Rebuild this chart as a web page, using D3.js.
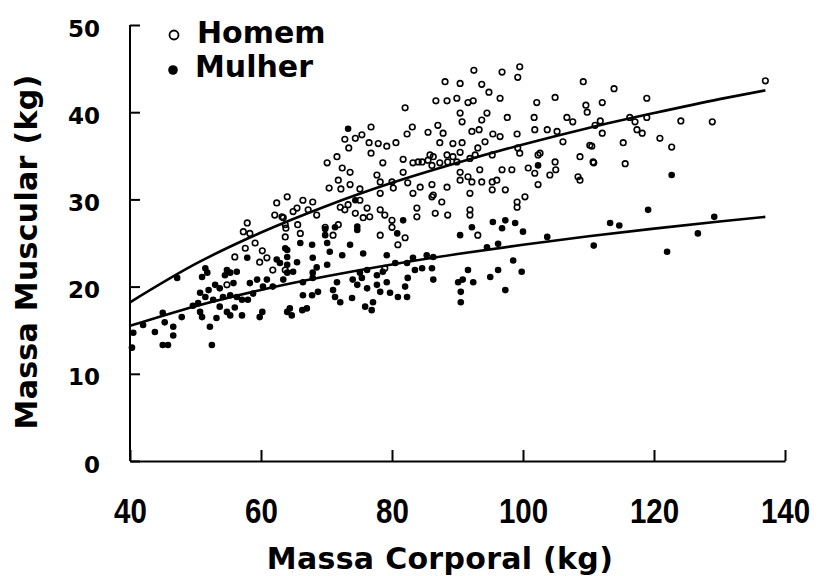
<!DOCTYPE html>
<html>
<head>
<meta charset="utf-8">
<script src="https://cdn.jsdelivr.net/npm/d3@7"></script>
<style>
  html, body { margin: 0; padding: 0; background: #fff; }
  svg { display: block; }
</style>
</head>
<body>
<svg id="chart" width="820" height="576"></svg>
<script>
// ---------- data ----------
const xTicks = [40, 60, 80, 100, 120, 140];
const yTicks = [0, 10, 20, 30, 40, 50];
const seriesNames = ["Homem", "Mulher"];

// Homem (open circles): [massa corporal, massa muscular]
const homem = [
  [92.5,44.8],[96.8,44.6],[99.5,45.2],[99.2,44.0],[88.1,43.5],[90.4,43.3],[93.7,43.2],[94.8,42.3],[96.5,41.6],[89.9,41.6],
  [88.4,41.3],[86.7,41.3],[91.6,41.1],[92.4,41.3],[82.0,40.5],[102.1,41.1],[104.9,41.7],[109.2,43.5],[109.6,40.8],[109.8,40.0],
  [94.5,39.9],[90.4,39.9],[106.7,39.4],[101.7,39.4],[97.6,39.4],
  [90.7,38.9],[93.7,39.1],[101.8,38.0],[103.7,38.0],[105.2,37.8],[107.6,38.9],[111.0,38.5],[87.0,38.5],[85.5,37.7],[87.8,37.6],
  [92.2,37.8],[93.3,38.0],[95.4,37.5],[99.1,37.5],[106.1,36.6],[110.2,36.2],[87.3,36.5],[89.3,36.4],[90.7,36.5],[94.2,36.6],
  [96.5,37.2],[93.1,35.9],[99.5,35.3],[99.2,35.9],[102.6,35.3],[108.7,34.9],[110.7,34.3],[84.6,34.3],[85.8,35.1],[86.1,33.9],
  [87.3,34.2],[88.4,35.1],[89.3,34.9],[88.5,34.3],[89.9,34.3],[90.4,35.4],[91.9,34.7],[92.7,35.1],[95.3,35.1],[96.8,33.4],
  [98.3,33.4],[93.4,33.4],[100.8,33.6],[102.3,35.1],[104.9,34.3],[105.0,33.4],[104.1,32.8],[101.8,33.0],[108.4,32.6],[90.4,33.1],
  [91.6,32.6],[90.4,32.2],[92.2,32.0],[93.7,32.0],[95.3,32.0],[96.0,32.2],[95.3,31.1],[97.3,31.1],[88.4,31.4],[86.3,30.5],
  [91.9,30.7],[102.3,31.7],[99.1,29.7],[87.6,29.7],[108.7,32.2],
  [137.0,43.6],[113.9,42.7],[118.9,41.6],[112.1,41.1],[111.8,39.0],[116.3,39.4],[117.1,38.9],[118.9,39.4],[124.1,39.0],[128.9,38.9],
  [112.1,37.6],[117.4,38.0],[118.2,37.6],[120.9,37.0],[122.7,36.0],[115.3,36.5],[110.5,36.1],[110.8,34.2],[115.6,34.1],
  [83.1,38.3],[82.3,37.5],[76.8,38.3],[75.4,37.4],[74.4,37.0],[72.8,36.9],[73.4,35.9],[76.5,36.5],[77.9,36.4],[79.2,36.1],
  [76.8,35.3],[80.6,36.5],[71.6,34.9],[70.1,34.2],[72.4,33.6],[73.6,33.1],[78.6,34.2],[81.7,34.6],[83.2,34.2],[84.0,34.3],
  [85.5,34.5],[86.3,34.9],[81.7,33.1],[77.7,32.8],[71.8,32.2],[70.4,31.3],[73.6,31.7],[72.2,31.2],[75.1,31.2],[80.0,32.0],
  [78.2,32.0],[82.4,31.9],[84.3,31.4],[86.1,31.7],[80.2,31.3],[83.2,30.7],[78.2,30.7],[86.1,30.3],[64.0,30.3],[66.4,29.9],
  [67.9,29.7],[65.5,29.0],[67.2,28.8],[64.9,28.6],[68.5,28.2],[63.4,27.9],[72.1,29.1],[73.3,29.4],[75.1,29.9],[72.8,28.8],
  [74.4,28.4],[76.2,29.0],[76.6,28.0],[75.6,27.9],[78.2,28.8],[78.9,28.2],[80.0,27.6],[83.8,29.0],[83.8,28.0],[86.6,28.4],
  [63.7,27.1],[65.6,27.1],[66.0,26.1],[71.8,27.1],[69.8,26.8],[78.2,25.9],[80.0,26.8],[82.0,25.6],
  [62.4,29.6],[62.1,28.2],[63.2,28.0],[63.8,26.7],[57.9,27.3],[57.3,26.3],[58.3,26.1],[59.1,25.0],[57.6,24.4],[60.2,24.1],
  [56.0,23.4],[59.8,22.8],[60.9,23.3],[61.8,21.9],[63.7,21.9],[54.8,20.2],
  [63.7,25.7],[71.0,25.9],[80.9,24.8],[78.9,22.1],
  [91.9,28.8],[91.9,28.2],[93.1,25.9],[88.5,28.2],[99.1,29.1],[100.3,30.3]
];

// Mulher (filled circles)
const mulher = [
  [47.2,21.0],[51.5,22.1],[51.8,21.6],[51.0,21.1],[54.5,21.3],[55.3,21.6],[56.3,21.7],[53.0,20.2],[53.7,19.8],[50.7,19.3],
  [51.5,18.8],[50.4,18.1],[52.7,18.5],[54.2,18.8],[55.3,19.0],[56.3,18.8],[53.7,17.7],[54.8,17.1],[55.3,16.7],[50.7,17.1],
  [51.0,16.5],[52.2,15.4],[52.5,13.3],[47.9,16.5],[46.6,15.4],[46.6,14.4],[45.3,15.9],[45.0,13.3],[45.8,13.3],[43.8,14.8],
  [42.0,15.6],[40.5,14.7],[40.3,13.0],[57.1,18.5],[58.0,18.5],[57.1,16.7],[59.8,16.5],[60.2,17.1],[57.9,23.3],[62.4,23.1],
  [62.9,22.7],[58.3,20.4],[59.4,20.8],[60.9,20.8],[60.3,20.0],[61.8,20.0],[63.4,20.8],[64.0,17.1],[64.0,23.4],[63.7,24.4],
  [54.8,21.9],[45.0,17.0],[52.0,19.6],[55.8,20.4],[53.2,16.4],[56.0,17.6],[49.6,17.8],[58.8,19.2],
  [73.3,38.1],[74.4,29.9],[74.7,26.9],[71.3,26.8],[81.7,27.6],[69.8,26.6],
  [64.0,24.2],[66.0,25.0],[67.8,24.8],[70.1,25.0],[70.5,24.0],[72.4,23.6],[73.6,24.8],[75.6,23.8],[79.2,23.6],[80.8,26.1],
  [74.7,26.5],[69.8,25.9],[64.0,22.5],[65.5,22.8],[67.9,23.3],[68.5,22.2],[70.1,22.5],[64.0,21.6],[64.9,21.7],[67.9,21.6],
  [66.4,20.5],[67.9,21.0],[71.6,20.5],[71.0,19.6],[74.0,20.8],[75.4,21.0],[76.2,21.9],[77.7,21.3],[74.7,20.2],[76.2,19.8],
  [77.7,20.2],[78.2,19.4],[79.2,20.5],[79.7,19.3],[80.9,18.8],[82.0,20.0],[82.4,21.0],[82.3,18.8],[83.5,21.9],[84.6,22.1],
  [86.3,20.8],[86.1,22.1],[80.5,22.7],[82.3,22.7],[85.3,23.6],[86.3,23.4],[83.2,23.3],[78.6,21.7],[75.1,21.6],[66.4,19.0],
  [67.8,19.0],[68.7,19.4],[71.3,18.8],[72.1,18.2],[73.9,18.7],[75.9,17.7],[76.9,17.3],[77.1,18.2],[64.4,17.5],[64.7,16.7],
  [66.3,17.3],[67.0,17.5],
  [95.4,27.4],[97.3,27.6],[98.8,27.3],[96.8,26.7],[100.0,26.3],[92.2,26.8],[90.4,25.9],[94.5,24.5],[96.2,24.9],[103.7,25.7],
  [91.6,21.9],[90.1,20.5],[90.8,20.8],[92.4,20.5],[90.5,19.4],[90.5,18.2],[95.0,21.1],[96.2,21.9],[98.5,23.0],[99.8,21.7],
  [97.3,19.6],[102.3,33.9],
  [122.7,32.8],[119.1,28.8],[113.3,27.3],[114.7,27.0],[129.2,28.0],[126.7,26.1],[122.0,24.0],[110.8,24.7]
];

// fitted curves
const curveX      = [40, 50, 60, 70, 80, 90, 100, 110, 120, 130, 137];
const curveHomem  = [18.2, 22.6, 26.2, 29.25, 31.9, 34.2, 36.3, 38.2, 39.9, 41.5, 42.5];
const curveMulher = [15.5, 17.76, 19.62, 21.18, 22.54, 23.73, 24.8, 25.77, 26.65, 27.46, 28.0];

// ---------- drawing ----------
const svg = d3.select("#chart");
const x = d3.scaleLinear().domain([40, 140]).range([130, 785]);
const y = d3.scaleLinear().domain([0, 50]).range([461, 25]);

// points
svg.append("g").selectAll("circle").data(mulher).join("circle")
  .attr("cx", d => x(d[0])).attr("cy", d => y(d[1])).attr("r", 3.3)
  .attr("fill", "#000");
svg.append("g").selectAll("circle").data(homem).join("circle")
  .attr("cx", d => x(d[0])).attr("cy", d => y(d[1])).attr("r", 2.8)
  .attr("fill", "none").attr("stroke", "#000").attr("stroke-width", 1.6);

// curves
const line = d3.line().x(d => x(d[0])).y(d => y(d[1])).curve(d3.curveMonotoneX);
[curveHomem, curveMulher].forEach(c => {
  svg.append("path").datum(curveX.map((v, i) => [v, c[i]]))
    .attr("d", line).attr("fill", "none").attr("stroke", "#000").attr("stroke-width", 2.6);
});

// axes
const xAxis = svg.append("g").attr("transform", "translate(0,461)")
  .call(d3.axisBottom(x).tickValues(xTicks).tickSizeInner(-11).tickSizeOuter(0).tickFormat(d3.format("d")));
xAxis.selectAll("path,line").attr("stroke", "#000").attr("stroke-width", 2);
xAxis.selectAll("text")
  .attr("y", 0).attr("dy", 0)
  .attr("transform", "translate(0,62) scale(0.82,1)")
  .attr("fill", "#000")
  .style("font-family", "'Liberation Sans', Arial, sans-serif")
  .style("font-weight", "bold").style("font-size", "36px");

const yAxis = svg.append("g").attr("transform", "translate(130,0)")
  .call(d3.axisLeft(y).tickValues(yTicks).tickSizeInner(-10).tickSizeOuter(0).tickFormat(d3.format("d")));
yAxis.selectAll("path,line").attr("stroke", "#000").attr("stroke-width", 2);
yAxis.selectAll("text")
  .attr("x", -30).attr("dy", 11)
  .attr("fill", "#000")
  .style("font-family", "'DejaVu Sans', sans-serif")
  .style("font-weight", "bold").style("font-size", "23px");
yAxis.selectAll(".domain").remove();
yAxis.append("line").attr("x1", 0).attr("x2", 0).attr("y1", y(50)).attr("y2", y(0))
  .attr("stroke", "#000").attr("stroke-width", 2);

// titles
svg.append("text").attr("x", 440).attr("y", 569).attr("text-anchor", "middle")
  .style("font-family", "'DejaVu Sans', sans-serif").style("font-weight", "bold")
  .style("font-size", "30px").style("letter-spacing", "0.3px")
  .text("Massa Corporal (kg)");
svg.append("text").attr("transform", "translate(37,252) rotate(-90)").attr("text-anchor", "middle")
  .style("font-family", "'DejaVu Sans', sans-serif").style("font-weight", "bold")
  .style("font-size", "30px").style("letter-spacing", "0.3px")
  .text("Massa Muscular (kg)");

// legend
const leg = svg.append("g");
leg.append("circle").attr("cx", 174).attr("cy", 35).attr("r", 4.5)
  .attr("fill", "none").attr("stroke", "#000").attr("stroke-width", 1.8);
leg.append("circle").attr("cx", 173).attr("cy", 70).attr("r", 4.8).attr("fill", "#000");
leg.selectAll("text").data(seriesNames).join("text")
  .attr("x", (d, i) => i === 0 ? 197 : 195)
  .attr("y", (d, i) => i === 0 ? 43 : 77)
  .style("font-family", "'DejaVu Sans', sans-serif").style("font-weight", "bold")
  .style("font-size", "30px")
  .text(d => d);
</script>
</body>
</html>
